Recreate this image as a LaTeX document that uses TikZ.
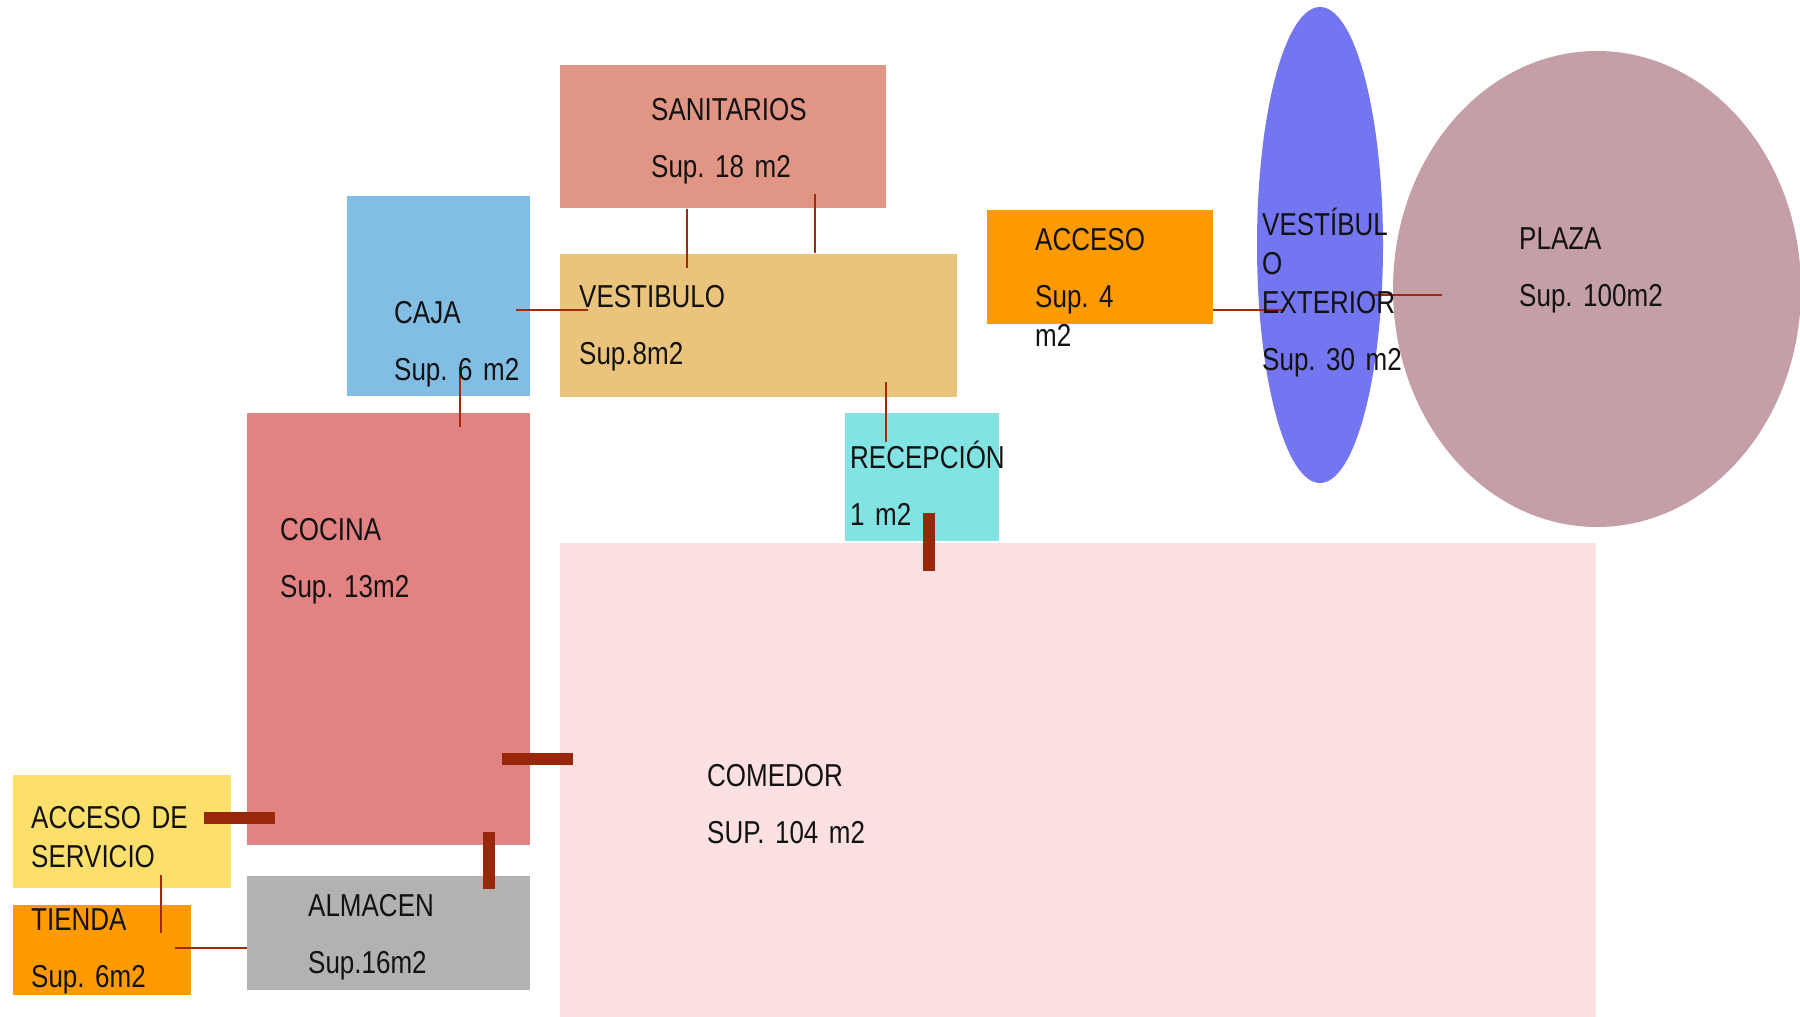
\documentclass[tikz,border=0pt]{standalone}
\usepackage{fontspec}
\setmainfont{Liberation Sans}[FakeStretch=0.82]
\frenchspacing
\newcommand\roomfont{\fontsize{31.7}{39}\selectfont\frenchspacing\spaceskip 4.6pt plus 1pt minus 1pt\relax}
\definecolor{sanit}{HTML}{E09585}
\definecolor{vestib}{HTML}{EAC47C}
\definecolor{caja}{HTML}{82BEE3}
\definecolor{acceso}{HTML}{FF9A00}
\definecolor{vext}{HTML}{7376F0}
\definecolor{plaza}{HTML}{C59FA8}
\definecolor{recep}{HTML}{82E3E3}
\definecolor{cocina}{HTML}{E38283}
\definecolor{comedor}{HTML}{FDE0E1}
\definecolor{servicio}{HTML}{FDDF6B}
\definecolor{almacen}{HTML}{B4B1B1}
\definecolor{linkred}{HTML}{A12A0C}
\begin{document}
\begin{tikzpicture} [x = 1pt, y = -1pt,
	lbl/.style = {anchor = base west, inner sep = 0, text width = 400pt, align = left,
		font = \roomfont, text = black!93},
	conn/.style = {draw = linkred, line width = 2pt},
	door/.style = {draw = linkred!95!black, line width = 12pt}]
	\useasboundingbox (0,0) rectangle (1800,1017);
	% rooms
	\fill [sanit] (560,65) rectangle (886,208);
	\fill [vestib] (560,254) rectangle (957,397);
	\fill [caja] (347,196) rectangle (530,396);
	\fill [acceso] (987,210) rectangle (1213,324);
	\fill [vext] (1320,245) ellipse (63 and 238);
	\fill [plaza] (1597,289) ellipse (204 and 238);
	\fill [cocina] (247,413) rectangle (530,845);
	\fill [comedor] (560,543) rectangle (1596,1017);
	\fill [recep] (845,413) rectangle (999,541);
	\fill [servicio] (13,775) rectangle (231,888);
	\fill [acceso] (13,905) rectangle (191,995);
	\fill [almacen] (247,876) rectangle (530,990);
	% thin links
	\coordinate (san1) at (687,209);  \coordinate (ves1) at (687,268);
	\coordinate (san2) at (815,194);  \coordinate (ves2) at (815,253);
	\coordinate (caj1) at (516,310);  \coordinate (ves3) at (588,310);
	\coordinate (caj2) at (460,367);  \coordinate (coc1) at (460,427);
	\coordinate (ves4) at (886,382);  \coordinate (rec1) at (886,442);
	\coordinate (acc1) at (1213,310); \coordinate (vex1) at (1285,310);
	\coordinate (vex2) at (1370,295); \coordinate (pla1) at (1442,295);
	\coordinate (ser1) at (161,875);  \coordinate (tie1) at (161,933);
	\coordinate (tie2) at (175,948);  \coordinate (alm1) at (247,948);
	\draw [conn] (san1) -- (ves1);
	\draw [conn] (san2) -- (ves2);
	\draw [conn] (caj1) -- (ves3);
	\draw [conn] (caj2) -- (coc1);
	\draw [conn] (ves4) -- (rec1);
	\draw [conn] (acc1) -- (vex1);
	\draw [conn] (vex2) -- (pla1);
	\draw [conn] (ser1) -- (tie1);
	\draw [conn] (tie2) -- (alm1);
	% doors
	\coordinate (rec2) at (929,513);  \coordinate (com1) at (929,571);
	\coordinate (coc2) at (502,759);  \coordinate (com2) at (573,759);
	\coordinate (ser2) at (204,817.5); \coordinate (coc3) at (275,817.5);
	\coordinate (coc4) at (488.5,832); \coordinate (alm2) at (488.5,889);
	\draw [door] (rec2) -- (com1);
	\draw [door] (coc2) -- (com2);
	\draw [door] (ser2) -- (coc3);
	\draw [door] (coc4) -- (alm2);
	% labels
	\node [lbl] (tsan) at (651,120) {SANITARIOS\\[18pt]Sup. 18 m2};
	\node [lbl] (tves) at (579,307) {VESTIBULO\\[18pt]Sup.8m2};
	\node [lbl] (tcaj) at (394,323) {CAJA\\[18pt]Sup. 6 m2};
	\node [lbl] (tacc) at (1035,250) {ACCESO\\[18pt]Sup. 4\\m2};
	\node [lbl] (tvex) at (1262,235) {VESTÍBUL\\O\\EXTERIOR\\[18pt]Sup. 30 m2};
	\node [lbl] (tpla) at (1519,249) {PLAZA\\[18pt]Sup. 100m2};
	\node [lbl] (trec) at (850,468) {RECEPCIÓN\\[18pt]1 m2};
	\node [lbl] (tcoc) at (280,540) {COCINA\\[18pt]Sup. 13m2};
	\node [lbl] (tcom) at (707,786) {COMEDOR\\[18pt]SUP. 104 m2};
	\node [lbl] (tser) at (31,828) {ACCESO DE\\SERVICIO};
	\node [lbl] (ttie) at (31,930) {TIENDA\\[18pt]Sup. 6m2};
	\node [lbl] (talm) at (308,916) {ALMACEN\\[18pt]Sup.16m2};
\end{tikzpicture}
\end{document}
